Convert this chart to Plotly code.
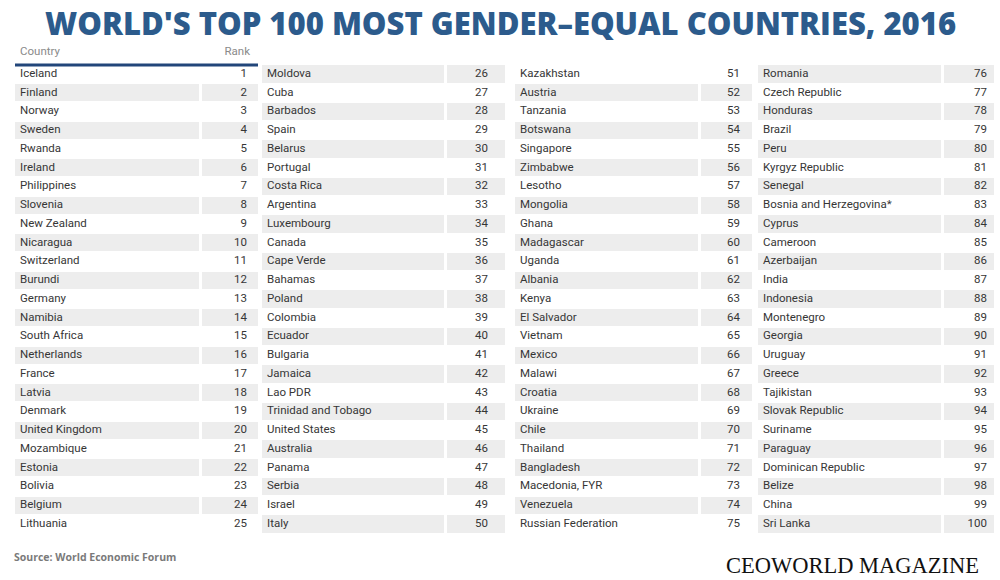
import plotly.graph_objects as go

title_text = "WORLD'S TOP 100 MOST GENDER\u2013EQUAL COUNTRIES, 2016"
header_labels = ["Country", "Rank"]

countries_1 = ["Iceland", "Finland", "Norway", "Sweden", "Rwanda", "Ireland", "Philippines",
               "Slovenia", "New Zealand", "Nicaragua", "Switzerland", "Burundi", "Germany",
               "Namibia", "South Africa", "Netherlands", "France", "Latvia", "Denmark",
               "United Kingdom", "Mozambique", "Estonia", "Bolivia", "Belgium", "Lithuania"]
ranks_1 = list(range(1, 26))

countries_2 = ["Moldova", "Cuba", "Barbados", "Spain", "Belarus", "Portugal", "Costa Rica",
               "Argentina", "Luxembourg", "Canada", "Cape Verde", "Bahamas", "Poland",
               "Colombia", "Ecuador", "Bulgaria", "Jamaica", "Lao PDR", "Trinidad and Tobago",
               "United States", "Australia", "Panama", "Serbia", "Israel", "Italy"]
ranks_2 = list(range(26, 51))

countries_3 = ["Kazakhstan", "Austria", "Tanzania", "Botswana", "Singapore", "Zimbabwe",
               "Lesotho", "Mongolia", "Ghana", "Madagascar", "Uganda", "Albania", "Kenya",
               "El Salvador", "Vietnam", "Mexico", "Malawi", "Croatia", "Ukraine", "Chile",
               "Thailand", "Bangladesh", "Macedonia, FYR", "Venezuela", "Russian Federation"]
ranks_3 = list(range(51, 76))

countries_4 = ["Romania", "Czech Republic", "Honduras", "Brazil", "Peru", "Kyrgyz Republic",
               "Senegal", "Bosnia and Herzegovina*", "Cyprus", "Cameroon", "Azerbaijan",
               "India", "Indonesia", "Montenegro", "Georgia", "Uruguay", "Greece",
               "Tajikistan", "Slovak Republic", "Suriname", "Paraguay", "Dominican Republic",
               "Belize", "China", "Sri Lanka"]
ranks_4 = list(range(76, 101))

groups = [(countries_1, ranks_1), (countries_2, ranks_2),
          (countries_3, ranks_3), (countries_4, ranks_4)]

W, H = 1000, 580
SHADE = "#ededed"
TEXT = "#363636"
FONT = "Roboto, Liberation Sans, sans-serif"
FSIZE = 11.5

# column-group geometry in pixels: (country cell x0, x1), (rank cell x0, x1), rank text right edge
group_geom = [
    ((15, 199), (202, 258), 247),
    ((262, 444), (447, 505), 488),
    ((515, 698), (701, 752), 740),
    ((758, 941), (944, 994), 987),
]
ROW0_Y = 74.0      # pixel centre of the first row
ROW_H = 18.75      # pixel pitch of rows
y_lo = (0 - ROW0_Y) / ROW_H
y_hi = (H - ROW0_Y) / ROW_H


def paper_y(py):
    return 1 - py / H


fig = go.Figure()
for g, (names, ranks) in enumerate(groups):
    (cx0, cx1), (rx0, rx1), rtext = group_geom[g]
    rows = list(range(len(names)))
    shaded = [i for i in rows if (i + g) % 2 == 1]
    # shaded country cells and rank cells
    fig.add_trace(go.Bar(orientation="h", y=shaded, x=[cx1 - cx0] * len(shaded),
                         base=[cx0] * len(shaded), width=0.93,
                         marker=dict(color=SHADE, line=dict(width=0)),
                         hoverinfo="skip", showlegend=False))
    fig.add_trace(go.Bar(orientation="h", y=shaded, x=[rx1 - rx0] * len(shaded),
                         base=[rx0] * len(shaded), width=0.93,
                         marker=dict(color=SHADE, line=dict(width=0)),
                         hoverinfo="skip", showlegend=False))
    fig.add_trace(go.Scatter(x=[cx0 + 5] * len(names), y=rows, mode="text",
                             text=names, textposition="middle right",
                             textfont=dict(family=FONT, size=FSIZE, color=TEXT),
                             hoverinfo="skip", showlegend=False))
    fig.add_trace(go.Scatter(x=[rtext] * len(ranks), y=rows, mode="text",
                             text=[str(r) for r in ranks], textposition="middle left",
                             textfont=dict(family=FONT, size=FSIZE, color=TEXT),
                             hoverinfo="skip", showlegend=False))

# header of the first group
fig.add_trace(go.Scatter(x=[20], y=[-1.17], mode="text", text=[header_labels[0]],
                         textposition="middle right",
                         textfont=dict(family=FONT, size=FSIZE, color="#8a8a8a"),
                         hoverinfo="skip", showlegend=False))
fig.add_trace(go.Scatter(x=[250], y=[-1.17], mode="text", text=[header_labels[1]],
                         textposition="middle left",
                         textfont=dict(family=FONT, size=FSIZE, color="#8a8a8a"),
                         hoverinfo="skip", showlegend=False))

# dark blue rule under the header
fig.add_shape(type="line", xref="x", yref="paper",
              x0=15, x1=258, y0=paper_y(65), y1=paper_y(65),
              line=dict(color="#22467a", width=3))

fig.add_annotation(text=title_text, xref="paper", yref="paper",
                   x=0.5, y=paper_y(23), xanchor="center", yanchor="middle",
                   showarrow=False,
                   font=dict(family="Open Sans, Lato, sans-serif", size=31,
                             color="#2c5b8c", weight=800))
fig.add_annotation(text="Source: World Economic Forum", xref="paper", yref="paper",
                   x=12 / W, y=paper_y(557), xanchor="left", yanchor="middle",
                   showarrow=False,
                   font=dict(family="Open Sans, sans-serif", size=10.5,
                             color="#7a7a7a", weight=700))
fig.add_annotation(text="CEOWORLD MAGAZINE", xref="paper", yref="paper",
                   x=981 / W, y=paper_y(565), xanchor="right", yanchor="middle",
                   showarrow=False,
                   font=dict(family="Liberation Serif, DejaVu Serif, serif", size=22.5,
                             color="#111111"))

fig.update_layout(width=W, height=H, margin=dict(l=0, r=0, t=0, b=0),
                  paper_bgcolor="white", plot_bgcolor="white", showlegend=False,
                  barmode="overlay", bargap=0,
                  xaxis=dict(range=[0, W], visible=False, fixedrange=True),
                  yaxis=dict(range=[y_hi, y_lo], visible=False, fixedrange=True))

fig.write_html("out.html", config={"displayModeBar": False},
               post_script="document.body.style.margin='0';")
